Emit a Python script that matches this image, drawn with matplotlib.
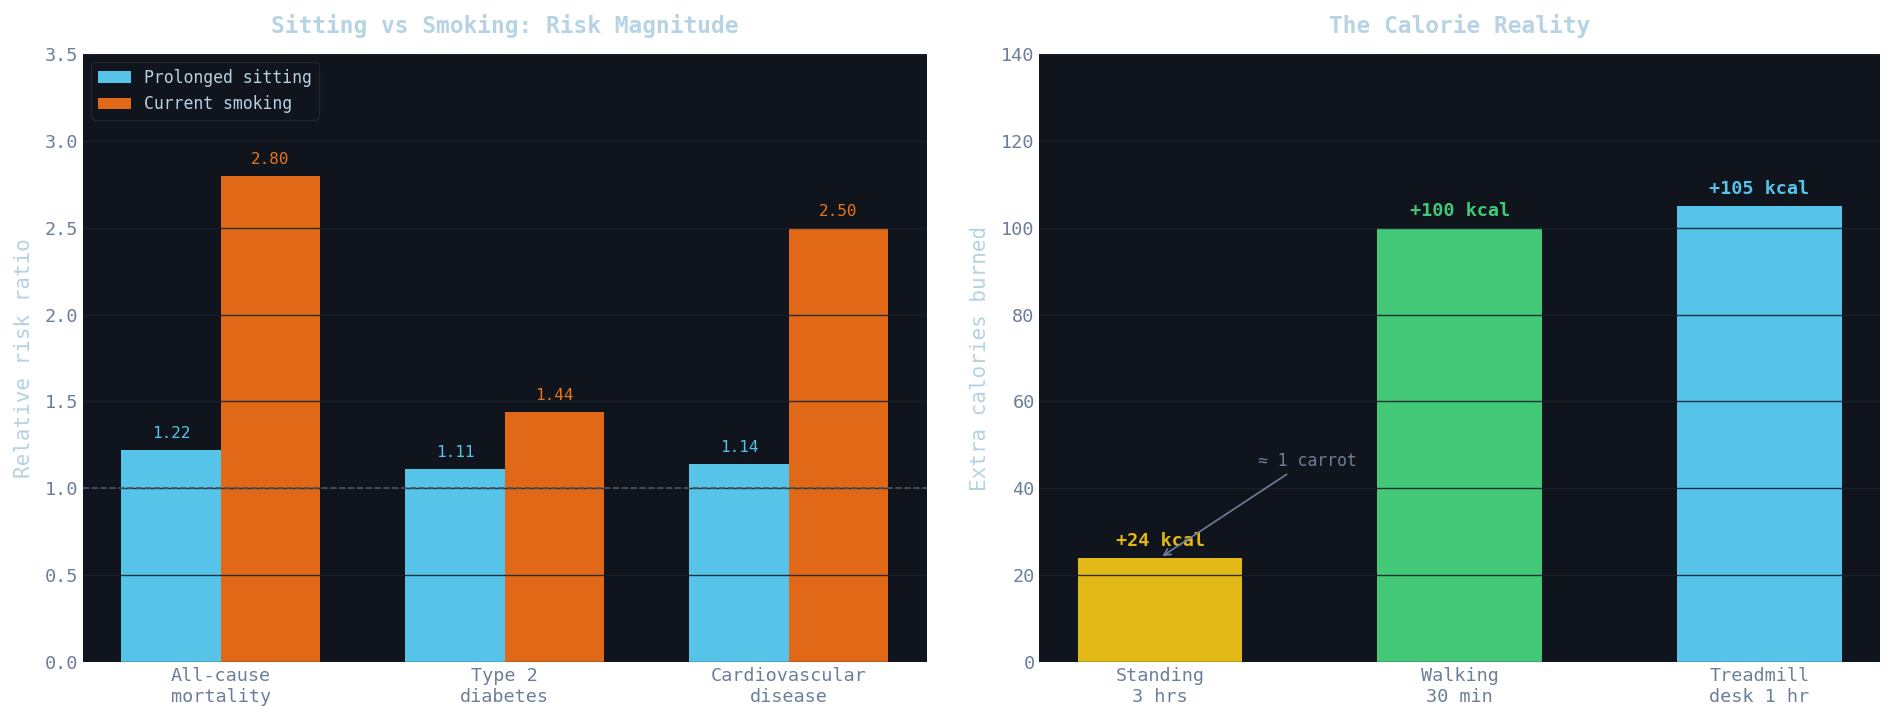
import matplotlib
matplotlib.use("Agg")
import matplotlib.pyplot as plt
import numpy as np

# risk data
risk_cats = ["All-cause\nmortality", "Type 2\ndiabetes", "Cardiovascular\ndisease"]
sitting_rr = [1.22, 1.11, 1.14]
smoking_rr = [2.80, 1.44, 2.50]

# calorie data
cal_cats = ["Standing\n3 hrs", "Walking\n30 min", "Treadmill\ndesk 1 hr"]
cal_vals = [24, 100, 105]
cal_labels = ["+24 kcal", "+100 kcal", "+105 kcal"]

BG = "#10141c"
BLUE = "#55c4e8"
ORANGE = "#e06817"
YELLOW = "#e1b816"
GREEN = "#43c877"
TICK = "#6b7f99"
TITLE = "#b7d4e4"
GRID = "#1b222d"

plt.rcParams["font.family"] = ["DejaVu Sans Mono", "DejaVu Sans"]

fig = plt.figure(figsize=(18.95, 7.25), dpi=100)
fig.patch.set_facecolor("white")
ax1 = fig.add_axes([0.0438, 0.087, 0.4452, 0.8385])
ax2 = fig.add_axes([0.5485, 0.087, 0.4436, 0.8385])

for ax in (ax1, ax2):
    ax.set_facecolor(BG)
    for s in ax.spines.values():
        s.set_visible(False)
    ax.tick_params(colors=TICK, labelsize=13.3, length=0)
    ax.grid(axis="y", color=GRID, alpha=0.9, linewidth=1.0, zorder=5)
    ax.set_axisbelow(False)

# left panel
x = np.arange(len(risk_cats))
w = 0.35
ax1.bar(x - w / 2, sitting_rr, w, color=BLUE, label="Prolonged sitting", zorder=2)
ax1.bar(x + w / 2, smoking_rr, w, color=ORANGE, label="Current smoking", zorder=2)
ax1.axhline(1.0, color="#4a5566", linestyle="--", linewidth=1.2, zorder=6)
for i in range(len(x)):
    ax1.text(x[i] - w / 2, sitting_rr[i] + 0.05, f"{sitting_rr[i]:.2f}", ha="center", va="bottom",
             color=BLUE, fontsize=11.5)
    ax1.text(x[i] + w / 2, smoking_rr[i] + 0.05, f"{smoking_rr[i]:.2f}", ha="center", va="bottom",
             color="#e8741c", fontsize=11.5)
ax1.set_ylim(0, 3.5)
ax1.set_yticks(np.arange(0, 3.51, 0.5))
ax1.set_xticks(x)
ax1.set_xticklabels(risk_cats)
ax1.set_ylabel("Relative risk ratio", color="#b5d2e2", fontsize=15, labelpad=8)
ax1.set_title("Sitting vs Smoking: Risk Magnitude", color=TITLE, fontsize=16.5,
              fontweight="bold", pad=15)
leg = ax1.legend(loc="upper left", fontsize=11.9, facecolor=BG, edgecolor="#1e2430",
                 labelcolor="#b5d2e2", framealpha=1.0)
leg.set_zorder(10)

# right panel
xc = np.arange(len(cal_cats))
ax2.bar(xc, cal_vals, 0.55, color=[YELLOW, GREEN, BLUE], zorder=2)
for i in range(len(xc)):
    ax2.text(xc[i], cal_vals[i] + 1.8, cal_labels[i], ha="center", va="bottom",
             color=[YELLOW, GREEN, BLUE][i], fontsize=13.3, fontweight="bold", zorder=7)
ax2.annotate("≈ 1 carrot", xy=(0, 24), xytext=(0.49, 44.2), ha="center", va="bottom",
             color="#6b7f99", fontsize=11.9,
             arrowprops=dict(arrowstyle="->", color="#6b7f99", lw=1.2), zorder=8)
ax2.set_ylim(0, 140)
ax2.set_yticks(np.arange(0, 141, 20))
ax2.set_xticks(xc)
ax2.set_xticklabels(cal_cats)
ax2.set_ylabel("Extra calories burned", color="#b5d2e2", fontsize=15, labelpad=8)
ax2.set_title("The Calorie Reality", color=TITLE, fontsize=16.5, fontweight="bold", pad=15)

fig.savefig("out.png", dpi=100, facecolor=fig.get_facecolor())
